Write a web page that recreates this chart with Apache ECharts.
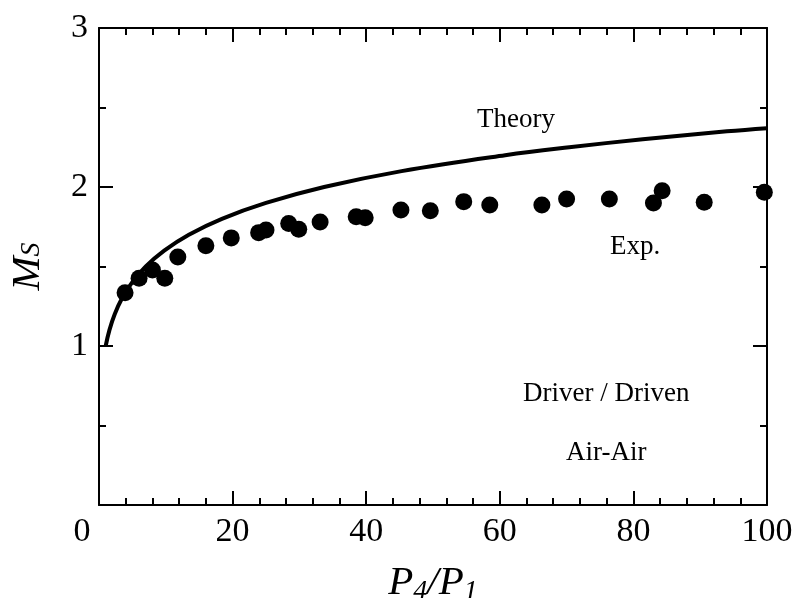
<!DOCTYPE html>
<html>
<head>
<meta charset="utf-8">
<script src="https://cdn.jsdelivr.net/npm/echarts@6/dist/echarts.min.js"></script>
<style>
  html, body { margin: 0; padding: 0; background: #fff; }
  #chart { width: 799px; height: 598px; }
</style>
</head>
<body>
<div id="chart"></div>
<script>
// theory curve (P4/P1, Ms)
var theoryX = [1, 1.56, 2.35, 3.45, 4.96, 7.0, 9.76, 13.45, 18.4, 25, 33.7, 45.3, 60.8, 70.4, 81.4, 94, 100];
var theoryY = [1.0, 1.1, 1.2, 1.3, 1.4, 1.5, 1.6, 1.7, 1.8, 1.9, 2.0, 2.1, 2.2, 2.25, 2.3, 2.35, 2.37];

// experimental points
var expX = [3.9, 6.0, 8.0, 9.85, 11.8, 16.0, 19.8, 23.9, 25.0, 28.4, 29.9, 33.1, 38.5, 39.85,
            45.2, 49.6, 54.6, 58.5, 66.3, 70.0, 76.4, 83.0, 84.3, 90.6, 99.6];
var expY = [1.335, 1.426, 1.478, 1.426, 1.56, 1.63, 1.68, 1.713, 1.73, 1.77, 1.734, 1.78, 1.813, 1.807,
            1.855, 1.85, 1.908, 1.887, 1.887, 1.925, 1.925, 1.90, 1.977, 1.904, 1.967];

var xTicks = [0, 20, 40, 60, 80, 100];
var yTicks = [0, 1, 2, 3];

var serif = '"Liberation Serif", "DejaVu Serif", serif';

function pairs(xs, ys) {
  return xs.map(function (x, i) { return [x, ys[i]]; });
}

var axisLine = { show: true, onZero: false, lineStyle: { color: '#000', width: 2 } };
var tickCommon = { show: true, inside: true, length: 14, lineStyle: { color: '#000', width: 2 } };
var minorCommon = { show: true, length: 7, lineStyle: { color: '#000', width: 2 } };

var chart = echarts.init(document.getElementById('chart'));
chart.setOption({
  backgroundColor: '#fff',
  animation: false,
  grid: { left: 99, right: 32, top: 28, bottom: 93, outerBoundsMode: 'none', containLabel: false },
  xAxis: [
    {
      type: 'value', min: xTicks[0], max: xTicks[xTicks.length - 1], interval: 20,
      position: 'bottom',
      axisLine: axisLine,
      axisTick: tickCommon,
      minorTick: Object.assign({ splitNumber: 5 }, minorCommon),
      splitLine: { show: false },
      axisLabel: {
        margin: 10, fontFamily: serif, fontSize: 34, color: '#000',
        formatter: function (v) { return v === 0 ? '{z|0}' : String(v); },
        rich: { z: { fontFamily: serif, fontSize: 34, color: '#000', padding: [0, 34, 0, 0] } }
      },
      name: '{p|P}{s|4}{p|/P}{s|1}',
      nameLocation: 'middle',
      nameGap: 55,
      nameTextStyle: {
        rich: {
          p: { fontFamily: serif, fontStyle: 'italic', fontSize: 41, color: '#000' },
          s: { fontFamily: serif, fontStyle: 'italic', fontSize: 28, color: '#000', padding: [18, 0, 0, 0] }
        }
      }
    },
    {
      type: 'value', min: 0, max: 100, interval: 20,
      position: 'top',
      axisLine: axisLine,
      axisTick: tickCommon,
      minorTick: Object.assign({ splitNumber: 5 }, minorCommon),
      splitLine: { show: false },
      axisLabel: { show: false }
    }
  ],
  yAxis: [
    {
      type: 'value', min: yTicks[0], max: yTicks[yTicks.length - 1], interval: 1,
      position: 'left',
      axisLine: axisLine,
      axisTick: tickCommon,
      minorTick: Object.assign({ splitNumber: 2 }, minorCommon),
      splitLine: { show: false },
      axisLabel: {
        margin: 11, fontFamily: serif, fontSize: 34, color: '#000',
        formatter: function (v) { return v === 0 ? '' : String(v); }
      },
      name: '{m|M}{s|S}',
      nameLocation: 'middle',
      nameRotate: 90,
      nameGap: 50,
      nameTextStyle: {
        rich: {
          m: { fontFamily: serif, fontStyle: 'italic', fontSize: 41, color: '#000' },
          s: { fontFamily: serif, fontStyle: 'italic', fontSize: 28, color: '#000', padding: [7, 0, 0, 0] }
        }
      }
    },
    {
      type: 'value', min: 0, max: 3, interval: 1,
      position: 'right',
      axisLine: axisLine,
      axisTick: tickCommon,
      minorTick: Object.assign({ splitNumber: 2 }, minorCommon),
      splitLine: { show: false },
      axisLabel: { show: false }
    }
  ],
  series: [
    {
      name: 'Theory',
      type: 'line',
      data: pairs(theoryX, theoryY),
      smooth: 0.4,
      showSymbol: false,
      lineStyle: { color: '#000', width: 4 },
      clip: true,
      z: 3
    },
    {
      name: 'Exp.',
      type: 'scatter',
      data: pairs(expX, expY),
      symbol: 'circle',
      symbolSize: 17,
      itemStyle: { color: '#000', opacity: 1 },
      clip: false,
      z: 4
    }
  ],
  graphic: [
    { type: 'text', left: 477, top: 106, style: { text: 'Theory', font: '27px ' + serif, fill: '#000' } },
    { type: 'text', left: 610, top: 233, style: { text: 'Exp.', font: '27px ' + serif, fill: '#000' } },
    { type: 'text', left: 523, top: 380, style: { text: 'Driver / Driven', font: '27px ' + serif, fill: '#000' } },
    { type: 'text', left: 566, top: 439, style: { text: 'Air-Air', font: '27px ' + serif, fill: '#000' } }
  ]
});
</script>
</body>
</html>
